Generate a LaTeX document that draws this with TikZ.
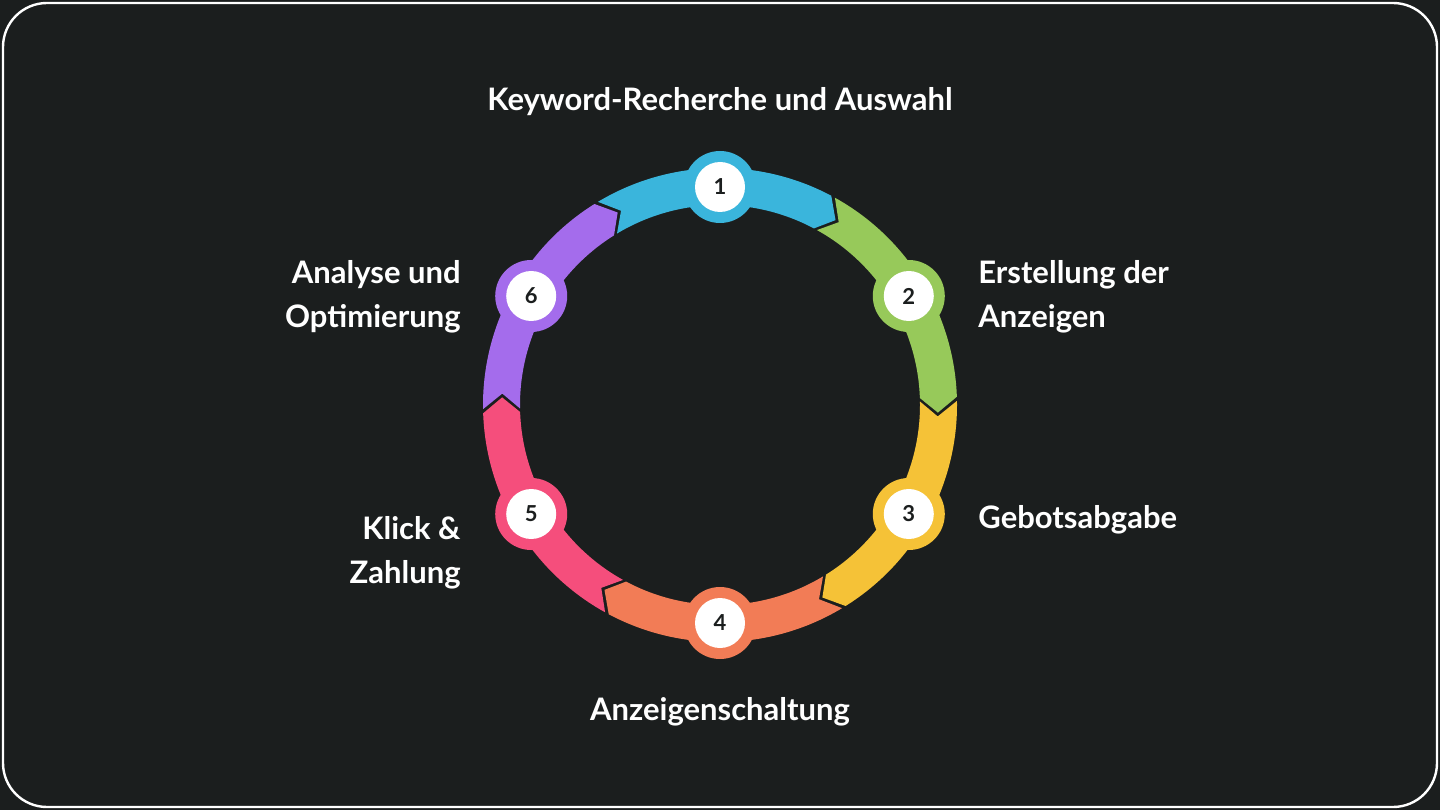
\documentclass[tikz,border=0pt]{standalone}
\usepackage{fontspec}
\setmainfont{Lato}
\definecolor{bg}{HTML}{1B1E1E}
\definecolor{c1}{HTML}{3AB5DC}
\definecolor{c2}{HTML}{97C95A}
\definecolor{c3}{HTML}{F5C237}
\definecolor{c4}{HTML}{F27C56}
\definecolor{c5}{HTML}{F54E7C}
\definecolor{c6}{HTML}{A46CEC}
\tikzset{
  lbl/.style={text=white,font=\fontsize{15.5}{22}\selectfont\bfseries,align=left,inner sep=0pt},
  num/.style={circle,fill=white,text=bg,minimum size=25pt,inner sep=0pt,font=\fontsize{11}{12}\selectfont\bfseries},
}
\begin{document}
\begin{tikzpicture}[x=0.5pt,y=0.5pt]
\fill[bg] (0,0) rectangle (1440,810);
\draw[white,line width=1.2pt,fill=bg,rounded corners=22pt] (3,3) rectangle (1437,807);
\begin{scope}[shift={(720,405)}]
\foreach \a/\c/\n in {90/c1/1,30/c2/2,-30/c3/3,-90/c4/4,-150/c5/5,150/c6/6}{
  \fill[\c] (\a+31:237) arc[start angle=\a+31,end angle=\a-28,radius=237]
    -- (\a-32:218) -- (\a-28:200)
    arc[start angle=\a-28,end angle=\a+31,radius=200]
    -- (\a+27:218) -- cycle;
  \fill[\c] (\a:218) circle[radius=36];
  \node[num] (n\n) at (\a:218) {\n};
}
\end{scope}
\node[lbl,align=center] (t1) at (720,708) {Keyword-Recherche und Auswahl};
\node[lbl,anchor=west] (t2) at (978,513) {Erstellung der\\Anzeigen};
\node[lbl,anchor=west] (t3) at (978,290) {Gebotsabgabe};
\node[lbl,align=center] (t4) at (720,98) {Anzeigenschaltung};
\node[lbl,anchor=east,align=right] (t5) at (461,257) {Klick \&\\Zahlung};
\node[lbl,anchor=east,align=right] (t6) at (461,513) {Analyse und\\Optimierung};
\end{tikzpicture}
\end{document}
